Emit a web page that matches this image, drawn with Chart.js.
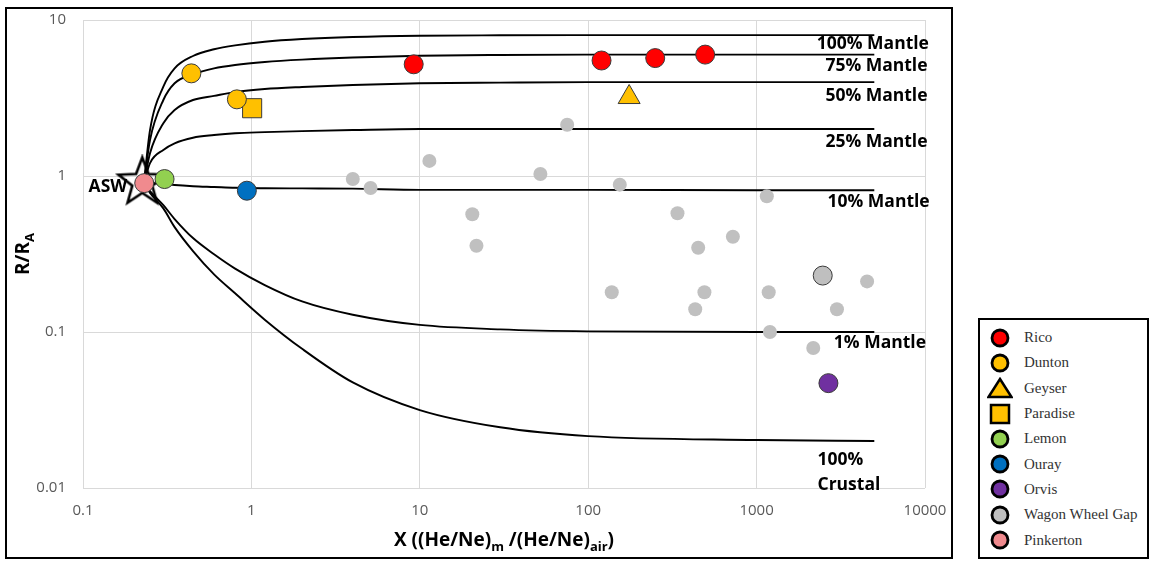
<!DOCTYPE html>
<html>
<head>
<meta charset="utf-8">
<script src="https://cdn.jsdelivr.net/npm/chart.js@4.4.1/dist/chart.umd.min.js"></script>
<style>
  body { margin: 0; background: #fff; width: 1152px; height: 561px; overflow: hidden; position: relative; }
  #plotBox { position: absolute; left: 5px; top: 7px; width: 948px; height: 552px; border: 2px solid #000; box-sizing: border-box; }
  #legend { position: absolute; left: 978px; top: 318px; width: 171px; height: 241px; border: 2px solid #000; box-sizing: border-box; padding-top: 5px; }
  .item { display: flex; align-items: center; height: 25.3px; }
  .item svg { margin-left: 7px; margin-right: 11px; flex: none; }
  .item span { font: 15px "Liberation Serif", "Times New Roman", serif; color: #333; white-space: nowrap; }
</style>
</head>
<body>
<div id="plotBox"><canvas id="chart" width="944" height="548"></canvas></div>
<div id="legend"></div>
<script>
// axis ticks
const xTicks = [0.1, 1, 10, 100, 1000, 10000];
const yTicks = [0.01, 0.1, 1, 10];

// mixing curves, R/RA at common X positions
const curveX    = [0.23, 0.25, 0.3, 0.35, 0.45, 0.6, 0.8, 1.2, 2, 4, 10, 30, 100, 1000, 5000];
const mantle100 = [0.9, 1.97, 3.74, 4.9, 5.88, 6.49, 6.88, 7.26, 7.55, 7.78, 7.93, 7.98, 8.0, 8.0, 8.0];
const mantle75  = [0.9, 1.7, 3.07, 3.93, 4.49, 4.9, 5.15, 5.38, 5.57, 5.75, 5.9, 5.97, 6.0, 6.0, 6.0];
const mantle50  = [0.9, 1.4, 2.18, 2.65, 3.07, 3.26, 3.45, 3.61, 3.72, 3.83, 3.93, 3.97, 4.0, 4.0, 4.0];
const mantle25  = [0.9, 1.21, 1.47, 1.62, 1.76, 1.83, 1.88, 1.91, 1.94, 1.97, 2.0, 2.0, 2.0, 2.0, 2.0];
const mantle10  = [0.9, 0.9, 0.89, 0.875, 0.86, 0.85, 0.84, 0.835, 0.833, 0.83, 0.815, 0.815, 0.815, 0.81, 0.81];
const mantle1   = [0.9, 0.8, 0.65, 0.53, 0.4, 0.315, 0.255, 0.2, 0.157, 0.129, 0.111, 0.104, 0.101, 0.1, 0.1];
const crustal   = [0.9, 0.78, 0.62, 0.47, 0.33, 0.234, 0.177, 0.12, 0.078, 0.0475, 0.0316, 0.0245, 0.0215, 0.0203, 0.02];

// air saturated water
const aswX = [0.225];
const aswR = [0.91];

// other springs (grey)
const otherX = [4.0, 5.1, 11.4, 20.5, 21.7, 52, 75, 154, 138, 339, 450, 723, 490, 432, 1150, 1180, 1200, 2170, 3000, 4530];
const otherR = [0.956, 0.838, 1.25, 0.568, 0.357, 1.03, 2.13, 0.88, 0.18, 0.577, 0.347, 0.408, 0.18, 0.14, 0.741, 0.18, 0.1, 0.079, 0.14, 0.211];

// named springs
const ricoX = [9.2, 120, 250, 495];
const ricoR = [5.2, 5.5, 5.7, 6.0];
const duntonX = [0.44, 0.82];
const duntonR = [4.55, 3.1];
const geyserX = [175];
const geyserR = [3.2];
const paradiseX = [1.01];
const paradiseR = [2.72];
const lemonX = [0.305];
const lemonR = [0.956];
const ourayX = [0.94];
const ourayR = [0.805];
const orvisX = [2670];
const orvisR = [0.047];
const wagonX = [2470];
const wagonR = [0.23];
const pinkertonX = [0.231];
const pinkertonR = [0.9];

const pts = (xs, ys) => xs.map((v, i) => ({ x: v, y: ys[i] }));

const sites = [
    { name: 'Rico', x: ricoX, y: ricoR, color: '#ff0000', shape: 'circle' },
    { name: 'Dunton', x: duntonX, y: duntonR, color: '#ffc000', shape: 'circle' },
    { name: 'Geyser', x: geyserX, y: geyserR, color: '#ffc000', shape: 'triangle' },
    { name: 'Paradise', x: paradiseX, y: paradiseR, color: '#ffc000', shape: 'rect' },
    { name: 'Lemon', x: lemonX, y: lemonR, color: '#92d050', shape: 'circle' },
    { name: 'Ouray', x: ourayX, y: ourayR, color: '#0070c0', shape: 'circle' },
    { name: 'Orvis', x: orvisX, y: orvisR, color: '#7030a0', shape: 'circle' },
    { name: 'Wagon Wheel Gap', x: wagonX, y: wagonR, color: '#bfbfbf', shape: 'circle' },
    { name: 'Pinkerton', x: pinkertonX, y: pinkertonR, color: '#f08a8e', shape: 'circle' }
];

const curves = [mantle100, mantle75, mantle50, mantle25, mantle10, mantle1, crustal];

const curveLabels = [
    { text: '100% Mantle', x: 4900, y: 7.0, align: 'center' },
    { text: '75% Mantle', x: 5150, y: 5.07, align: 'center' },
    { text: '50% Mantle', x: 5150, y: 3.26, align: 'center' },
    { text: '25% Mantle', x: 5150, y: 1.65, align: 'center' },
    { text: '10% Mantle', x: 5300, y: 0.68, align: 'center' },
    { text: '1% Mantle', x: 5400, y: 0.085, align: 'center' },
    { text: '100%', x: 2300, y: 0.0151, align: 'left' },
    { text: 'Crustal', x: 2300, y: 0.01045, align: 'left' },
    { text: 'ASW', x: 0.183, y: 0.85, align: 'right' }
];

function makeStar() {
    const c = document.createElement('canvas');
    c.width = c.height = 56;
    const g = c.getContext('2d');
    g.beginPath();
    for (let i = 0; i < 10; i++) {
        const r = i % 2 ? 10.5 : 25;
        const a = -Math.PI / 2 + i * Math.PI / 5;
        g.lineTo(28 + r * Math.cos(a), 28 + r * Math.sin(a));
    }
    g.closePath();
    g.lineWidth = 2.6;
    g.strokeStyle = '#000';
    g.stroke();
    return c;
}

function drawRich(ctx, parts, cx, cy, size, subSize) {
    const main = 'bold ' + size + 'px "Open Sans"';
    const sub = 'bold ' + subSize + 'px "Open Sans"';
    let w = 0;
    parts.forEach(p => { ctx.font = p.sub ? sub : main; w += ctx.measureText(p.t).width; });
    let x = cx - w / 2;
    ctx.textAlign = 'left';
    ctx.textBaseline = 'middle';
    parts.forEach(p => {
        ctx.font = p.sub ? sub : main;
        ctx.fillText(p.t, x, p.sub ? cy + 6 : cy);
        x += ctx.measureText(p.t).width;
    });
}

const textPlugin = {
    id: 'textPlugin',
    afterDraw(chart) {
        const { ctx, chartArea, scales: { x, y } } = chart;
        ctx.save();
        ctx.fillStyle = '#000';
        ctx.font = 'bold 17.5px "Open Sans"';
        ctx.textBaseline = 'middle';
        curveLabels.forEach(l => {
            ctx.textAlign = l.align;
            ctx.fillText(l.text, x.getPixelForValue(l.x), y.getPixelForValue(l.y));
        });
        drawRich(ctx, [
            { t: 'X ((He/Ne)' }, { t: 'm', sub: true }, { t: ' /(He/Ne)' }, { t: 'air', sub: true }, { t: ')' }
        ], (chartArea.left + chartArea.right) / 2, chartArea.bottom + 53, 19, 13);
        ctx.translate(17, (chartArea.top + chartArea.bottom) / 2);
        ctx.rotate(-Math.PI / 2);
        drawRich(ctx, [{ t: 'R/R' }, { t: 'A', sub: true }], 0, 0, 19, 13);
        ctx.restore();
    }
};

function noEdgePadding(s) {
    s.paddingTop = 0;
    s.paddingBottom = 0;
    s.paddingLeft = 0;
    s.paddingRight = 0;
}

function initChart() {
    const datasets = [];

    sites.forEach((s, i) => {
        datasets.push({
            label: s.name,
            data: pts(s.x, s.y),
            pointStyle: s.shape,
            pointRadius: s.shape === 'triangle' ? 12.7 : s.shape === 'rect' ? 13.5 : 9.5,
            backgroundColor: s.color,
            borderColor: '#3a3a3a',
            borderWidth: 1,
            order: i === 8 ? 0 : 1
        });
    });

    datasets.push({
        label: 'other',
        data: pts(otherX, otherR),
        pointRadius: 7,
        backgroundColor: '#c0c0c0',
        borderWidth: 0,
        order: 5
    });

    curves.forEach(c => {
        datasets.push({
            label: 'mix',
            data: pts(curveX, c),
            showLine: true,
            pointRadius: 0,
            borderColor: '#000',
            borderWidth: 1.9,
            cubicInterpolationMode: 'monotone',
            order: 10
        });
    });

    datasets.push({
        label: 'ASW',
        data: pts(aswX, aswR),
        pointStyle: makeStar(),
        pointRadius: 10,
        order: 20
    });

    new Chart(document.getElementById('chart'), {
        type: 'scatter',
        data: { datasets },
        options: {
            responsive: false,
            animation: false,
            events: [],
            layout: { autoPadding: false, padding: { left: 0, top: 11, right: 26, bottom: 0 } },
            plugins: { legend: { display: false }, tooltip: { enabled: false } },
            scales: {
                x: {
                    type: 'logarithmic',
                    min: 0.1,
                    max: 10000,
                    afterBuildTicks: s => { s.ticks = xTicks.map(v => ({ value: v })); },
                    afterFit: s => { s.height = 69; noEdgePadding(s); },
                    grid: { color: '#d9d9d9', drawTicks: false },
                    border: { display: false },
                    ticks: {
                        color: '#595959',
                        font: { family: '"Open Sans"', size: 15 },
                        padding: 14,
                        autoSkip: false,
                        maxRotation: 0,
                        callback: v => String(v)
                    }
                },
                y: {
                    type: 'logarithmic',
                    min: 0.01,
                    max: 10,
                    afterBuildTicks: s => { s.ticks = yTicks.map(v => ({ value: v })); },
                    afterFit: s => { s.width = 76; noEdgePadding(s); },
                    grid: { color: '#d9d9d9', drawTicks: false },
                    border: { display: false },
                    ticks: {
                        color: '#595959',
                        font: { family: '"Open Sans"', size: 15 },
                        padding: 17,
                        autoSkip: false,
                        callback: v => String(v)
                    }
                }
            }
        },
        plugins: [textPlugin]
    });

    // legend
    const legend = document.getElementById('legend');
    sites.forEach(s => {
        let icon;
        if (s.shape === 'triangle') {
            icon = '<svg width="26" height="22"><polygon points="13,2 24.5,20 1.5,20" fill="' + s.color + '" stroke="#000" stroke-width="2.5"/></svg>';
        } else if (s.shape === 'rect') {
            icon = '<svg width="26" height="22"><rect x="4" y="2" width="18" height="18" fill="' + s.color + '" stroke="#000" stroke-width="2.5"/></svg>';
        } else {
            icon = '<svg width="26" height="22"><circle cx="13" cy="11" r="8" fill="' + s.color + '" stroke="#000" stroke-width="2.8"/></svg>';
        }
        const row = document.createElement('div');
        row.className = 'item';
        row.innerHTML = icon + '<span>' + s.name + '</span>';
        legend.appendChild(row);
    });
}

if (document.readyState === 'loading') {
    document.addEventListener('DOMContentLoaded', initChart);
} else {
    initChart();
}
</script>
</body>
</html>
